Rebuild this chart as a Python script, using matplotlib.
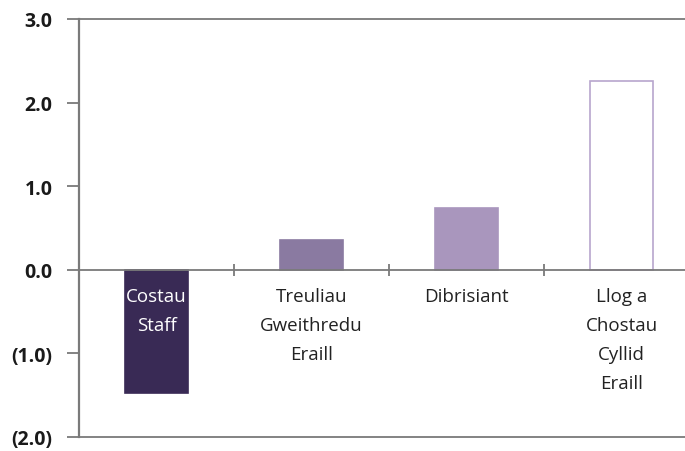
import numpy as np
import matplotlib.pyplot as plt

categories = ["Costau\nStaff", "Treuliau\nGweithredu\nEraill", "Dibrisiant", "Llog a\nChostau\nCyllid\nEraill"]
values = [-1.47, 0.36, 0.74, 2.26]
fill_colors = ["#392a55", "#8a7aa1", "#a996bd", "#ffffff"]
edge_colors = ["#392a55", "#8a7aa1", "#a996bd", "#b7a6cd"]
label_colors = ["white", "#222222", "#222222", "#222222"]
yticks = [3.0, 2.0, 1.0, 0.0, -1.0, -2.0]
ytick_labels = ["3.0", "2.0", "1.0", "0.0", "(1.0)", "(2.0)"]

grey = "#7a7a7a"

fig = plt.figure(figsize=(6.85, 4.52), dpi=100)
ax = fig.add_axes([79 / 685, 1 - 438 / 452, 1 - 79 / 685, 418 / 452])

x = np.arange(len(categories))
ax.bar(x, values, width=0.41, color=fill_colors, edgecolor=edge_colors, linewidth=1.2, zorder=2)

ax.axhline(0, color=grey, lw=1.3, zorder=3)
ax.plot(x[:-1] + 0.5, np.zeros(len(x) - 1), ls="none", marker="|", ms=9, mew=1.3, color=grey, zorder=3)

for xi, lab, c in zip(x, categories, label_colors):
    ax.text(xi, -0.2, lab, ha="center", va="top", fontsize=13.5, color=c,
            family="Open Sans", linespacing=1.8, zorder=4)

ax.set_xlim(-0.5, 3.41)
ax.set_ylim(-2.0, 3.0)
ax.set_yticks(yticks)
ax.set_yticklabels(ytick_labels, fontsize=14, fontweight="bold", family="Open Sans", color="#1a1a1a")
ax.set_xticks([])
ax.tick_params(axis="y", direction="out", length=9, width=1.3, color=grey, pad=10)

for side in ["top", "bottom", "left"]:
    ax.spines[side].set_color(grey)
    ax.spines[side].set_linewidth(1.3)
ax.spines["left"].set_linewidth(1.6)
ax.spines["right"].set_visible(False)

fig.savefig("out.png", dpi=100)
